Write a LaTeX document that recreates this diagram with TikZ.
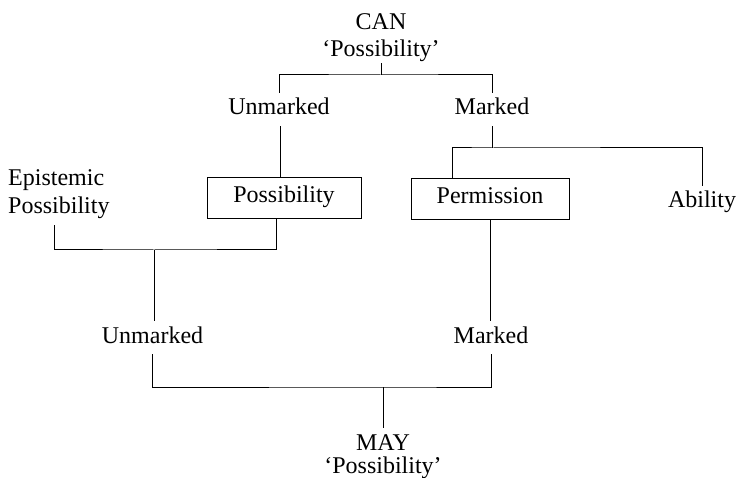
\documentclass[tikz,border=0pt]{standalone}
\usepackage{fontspec}
\setmainfont{Liberation Serif}
\begin{document}
\begin{tikzpicture}[x=1pt,y=-1pt,
  lbl/.style={inner xsep=0pt,inner ysep=6pt,text height=16pt,text depth=5pt,anchor=base,font=\fontsize{24}{28}\selectfont},
  tight/.style={lbl,inner ysep=1pt},
  boxed/.style={lbl,draw,line width=0.9pt,anchor=center,minimum height=41pt,inner ysep=0pt},
  conn/.style={line width=1pt}]
\useasboundingbox (0,0) rectangle (736,478);
% labels
\node[lbl] (can1) at (381,30) {CAN};
\node[tight] (can2) at (381,57) {`Possibility'};
\node[lbl] (unm1) at (279,115) {Unmarked};
\node[lbl] (mk1) at (492,115) {Marked};
\node[boxed,minimum width=154pt] (possbox) at (284,197.5) {Possibility};
\node[boxed,minimum width=158pt] (perm) at (490,198.5) {Permission};
\node[lbl] (abil) at (702,208) {Ability};
\node[lbl,anchor=base west] (epi1) at (8,186) {Epistemic};
\node[lbl,anchor=base west] (epi2) at (8,214) {Possibility};
\node[lbl] (unm2) at (152.5,343) {Unmarked};
\node[lbl] (mk2) at (491,343) {Marked};
\node[lbl] (may1) at (383,450) {MAY};
\node[tight] (may2) at (383,473) {`Possibility'};
% junctions
\coordinate (canj) at (381,75);
\coordinate (mkj) at (492,148);
\coordinate (ej) at (154,250);
\coordinate (bj) at (383,387);
% connectors
\draw[conn] (can2.south) -- (canj);
\draw[conn] (unm1.north) |- (canj) -| (mk1.north);
\draw[conn] ([xshift=1pt]unm1.south) -- ([xshift=1pt]unm1.south |- possbox.north);
\draw[conn] (mk1.south) -- (mkj);
\draw[conn] ([xshift=-38pt]perm.north) |- (mkj) -| (abil.north);
\draw[conn] ([xshift=-4pt]epi2.south) |- (ej) -| ([xshift=-8pt]possbox.south);
\draw[conn] (ej) -- (ej |- unm2.north);
\draw[conn] (perm.south) -- (perm.south |- mk2.north);
\draw[conn] (unm2.south) |- (bj) -| (mk2.south);
\draw[conn] (bj) -- (may1.north);
\end{tikzpicture}
\end{document}
